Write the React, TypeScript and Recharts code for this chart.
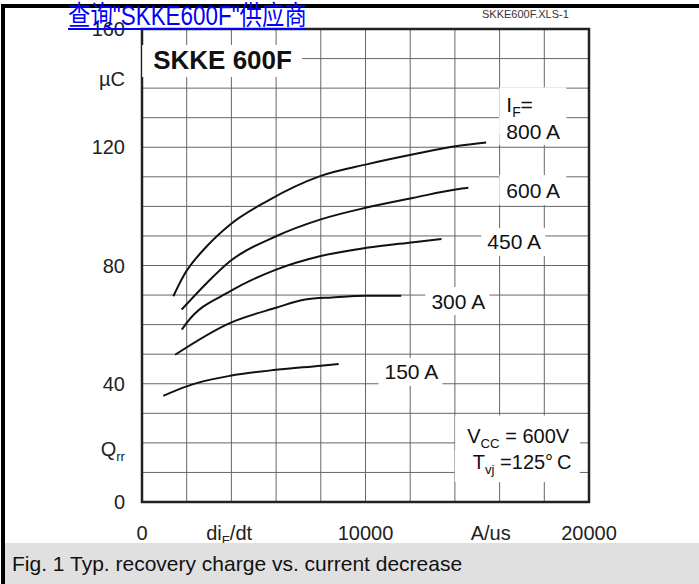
import { CartesianGrid, Line, LineChart, ReferenceArea, ReferenceDot, XAxis, YAxis } from 'recharts'

// Qrr (µC) vs diF/dt (A/us)
const qrr800 = [
  { x: 1400, y: 69.6 }, { x: 1850, y: 76.4 }, { x: 2900, y: 86.5 }, { x: 3950, y: 93.9 },
  { x: 5600, y: 101.8 }, { x: 8000, y: 110.3 }, { x: 10050, y: 114.2 }, { x: 12150, y: 117.6 },
  { x: 14100, y: 120.4 }, { x: 15400, y: 121.6 },
]
const qrr600 = [
  { x: 1775, y: 65.1 }, { x: 2900, y: 74.1 }, { x: 3950, y: 81.5 }, { x: 6000, y: 89.9 },
  { x: 8000, y: 95.6 }, { x: 10050, y: 99.6 }, { x: 12150, y: 102.9 }, { x: 14100, y: 105.8 },
  { x: 14600, y: 106.3 },
]
const qrr450 = [
  { x: 1780, y: 58.3 }, { x: 2000, y: 60.6 }, { x: 3950, y: 71.3 }, { x: 6000, y: 78.6 },
  { x: 8000, y: 83.2 }, { x: 10050, y: 86.0 }, { x: 12150, y: 87.9 }, { x: 13400, y: 89.0 },
]
const qrr300 = [
  { x: 1480, y: 49.8 }, { x: 3950, y: 60.6 }, { x: 6000, y: 65.7 }, { x: 7300, y: 68.5 },
  { x: 8500, y: 69.2 }, { x: 10050, y: 69.8 }, { x: 11600, y: 69.8 },
]
const qrr150 = [
  { x: 950, y: 35.9 }, { x: 2000, y: 39.1 }, { x: 2450, y: 40.2 }, { x: 3950, y: 42.7 },
  { x: 6000, y: 44.7 }, { x: 8000, y: 46.1 }, { x: 8800, y: 46.7 },
]
const series = [
  { name: '800 A', data: qrr800 },
  { name: '600 A', data: qrr600 },
  { name: '450 A', data: qrr450 },
  { name: '300 A', data: qrr300 },
  { name: '150 A', data: qrr150 },
]

const yTicks = [0, 18, 40, 80, 120, 143, 160]
const xTicks = [0, 3900, 10000, 15600, 20000]
const gridX = [2000, 4000, 6000, 8000, 10000, 12000, 14000, 16000, 18000]
const gridY = [10, 20, 30, 40, 50, 60, 70, 80, 90, 100, 110, 120, 130, 140, 150]

type Part = { t: string; sub?: boolean }
// text anchored at left / vertical centre; box = [dx, dy, w, h] in px around the anchor
const notes: { x: number; y: number; parts: Part[]; size: number; bold?: boolean; box: number[] }[] = [
  { x: 500, y: 149.5, parts: [{ t: 'SKKE 600F' }], size: 26, bold: true, box: [-11, -15, 160, 32] },
  { x: 16300, y: 134.5, parts: [{ t: 'I' }, { t: 'F', sub: true }, { t: '=' }], size: 21, box: [-7, -17, 67, 47] },
  { x: 16300, y: 125.5, parts: [{ t: '800 A' }], size: 21, box: [-7, -14, 67, 28] },
  { x: 16300, y: 105.5, parts: [{ t: '600 A' }], size: 21, box: [-7, -15, 67, 30] },
  { x: 15450, y: 88, parts: [{ t: '450 A' }], size: 21, box: [-6, -14, 64, 28] },
  { x: 12950, y: 68, parts: [{ t: '300 A' }], size: 21, box: [-6, -14, 64, 28] },
  { x: 10850, y: 44, parts: [{ t: '150 A' }], size: 21, box: [-6, -14, 64, 28] },
  { x: 14550, y: 22.5, parts: [{ t: 'V' }, { t: 'CC', sub: true }, { t: ' = 600V' }], size: 20, box: [-12, -20, 125, 36] },
  { x: 14800, y: 13.5, parts: [{ t: 'T' }, { t: 'vj', sub: true }, { t: ' =125°\u2009C' }], size: 20, box: [-18, -12, 125, 32] },
]

const font = '"Liberation Sans", Arial, Helvetica, sans-serif'

function Rich({ parts, size }: { parts: Part[]; size: number }) {
  const out: any[] = []
  let shifted = false
  parts.forEach((p, i) => {
    if (p.sub && !shifted) {
      out.push(<tspan key={i} fontSize={size * 0.66} dy={size * 0.25}>{p.t}</tspan>)
      shifted = true
    } else if (!p.sub && shifted) {
      out.push(<tspan key={i} dy={-size * 0.25}>{p.t}</tspan>)
      shifted = false
    } else {
      out.push(<tspan key={i}>{p.t}</tspan>)
    }
  })
  return <>{out}</>
}

function NoteShape(props: any) {
  const { cx, cy, note } = props
  const [dx, dy, w, h] = note.box
  return (
    <g>
      <rect x={cx + dx} y={cy + dy} width={w} height={h} fill="#fff" />
      <text
        x={cx}
        y={cy}
        dy="0.36em"
        fontSize={note.size}
        fontWeight={note.bold ? 'bold' : 'normal'}
        fontFamily={font}
        fill="#111"
      >
        <Rich parts={note.parts} size={note.size} />
      </text>
    </g>
  )
}

function YTick(props: any) {
  const { x, y, payload } = props
  const v = payload.value
  let parts: Part[] = [{ t: String(v) }]
  if (v === 18) parts = [{ t: 'Q' }, { t: 'rr', sub: true }]
  if (v === 143) parts = [{ t: '\u00b5C' }]
  return (
    <text x={x - 17} y={y} dy="0.36em" textAnchor="end" fontSize={20} fontFamily={font} fill="#222">
      <Rich parts={parts} size={20} />
    </text>
  )
}

function XTick(props: any) {
  const { x, y, payload } = props
  const v = payload.value
  let parts: Part[] = [{ t: String(v) }]
  if (v === 3900) parts = [{ t: 'di' }, { t: 'F', sub: true }, { t: '/dt' }]
  if (v === 15600) parts = [{ t: 'A/us' }]
  return (
    <text x={x} y={y + 38} textAnchor="middle" fontSize={20} fontFamily={font} fill="#222">
      <Rich parts={parts} size={20} />
    </text>
  )
}

export default function App() {
  return (
    <div
      style={{
        position: 'absolute',
        left: 0,
        top: 0,
        width: 699,
        height: 584,
        background: '#fff',
        overflow: 'hidden',
        fontFamily: font,
      }}
    >
      <div style={{ position: 'absolute', left: 1, top: 4, width: 698, height: 4, background: '#000' }} />
      <div style={{ position: 'absolute', left: 1, top: 4, width: 4, height: 580, background: '#000' }} />
      <div style={{ position: 'absolute', left: 0, top: 0 }}>
        <LineChart width={699} height={584} margin={{ top: 29, right: 110, bottom: 42, left: 0 }}>
          <CartesianGrid
            stroke="#666"
            strokeWidth={1}
            horizontalValues={gridY}
            verticalValues={gridX}
          />
          <XAxis
            type="number"
            dataKey="x"
            domain={[0, 20000]}
            ticks={xTicks}
            interval={0}
            tick={<XTick />}
            tickLine={false}
            axisLine={false}
            tickSize={0}
            tickMargin={0}
            height={40}
            allowDataOverflow
          />
          <YAxis
            type="number"
            domain={[0, 160]}
            ticks={yTicks}
            interval={0}
            tick={<YTick />}
            tickLine={false}
            axisLine={false}
            tickSize={0}
            tickMargin={0}
            width={142}
            allowDataOverflow
          />
          {series.map((s) => (
            <Line
              key={s.name}
              data={s.data}
              dataKey="y"
              name={s.name}
              type="monotone"
              stroke="#111"
              strokeWidth={2}
              dot={false}
              isAnimationActive={false}
            />
          ))}
          {notes.map((n, i) => (
            <ReferenceDot key={i} x={n.x} y={n.y} r={0} shape={(p: any) => <NoteShape {...p} note={n} />} />
          ))}
          <ReferenceArea x1={0} x2={20000} y1={0} y2={160} fill="none" stroke="#222" strokeWidth={2.5} fillOpacity={0} />
        </LineChart>
      </div>
      <div
        style={{
          position: 'absolute',
          left: 482,
          top: 9,
          fontSize: 11,
          lineHeight: '11px',
          color: '#333',
          whiteSpace: 'nowrap',
        }}
      >
        SKKE600F.XLS-1
      </div>
      <div
        style={{
          position: 'absolute',
          left: 68,
          top: 3,
          fontSize: 27,
          lineHeight: '27px',
          color: '#0000ff',
          whiteSpace: 'nowrap',
          transform: 'scaleX(0.83)',
          transformOrigin: 'left top',
          fontFamily: '"Liberation Sans", Arial, "Noto Sans CJK SC", sans-serif',
        }}
      >
        查询"SKKE600F"供应商
      </div>
      <div style={{ position: 'absolute', left: 68, top: 28, width: 237, height: 2, background: '#0000ff' }} />
      <div
        style={{
          position: 'absolute',
          left: 5,
          top: 543,
          width: 694,
          height: 41,
          background: '#e0e0e0',
          fontSize: 21,
          lineHeight: '41px',
          paddingLeft: 7,
          boxSizing: 'border-box',
          color: '#111',
          whiteSpace: 'nowrap',
        }}
      >
        Fig. 1 Typ. recovery charge vs. current decrease
      </div>
    </div>
  )
}
